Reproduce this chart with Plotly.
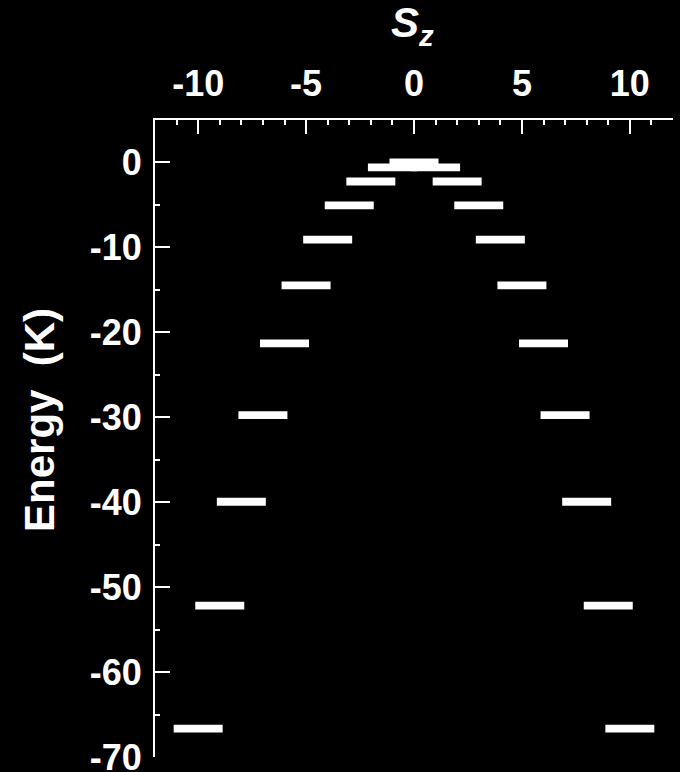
import plotly.graph_objects as go

# Data
sz_values = [-10, -9, -8, -7, -6, -5, -4, -3, -2, -1, 0, 1, 2, 3, 4, 5, 6, 7, 8, 9, 10]
energy_half = [0.0, -0.57, -2.24, -5.05, -9.09, -14.48, -21.29, -29.75, -39.95, -52.18, -66.66]  # |Sz| = 0..10
energies = [energy_half[abs(s)] for s in sz_values]

x_ticks = [-10, -5, 0, 5, 10]
y_ticks = [0, -10, -20, -30, -40, -50, -60, -70]

# Style constants
LEVEL_HALF_WIDTH = 1.135   # in Sz units
LEVEL_THICKNESS = 0.92     # in energy units
FONT = "Liberation Sans"

fig = go.Figure()
fig.add_trace(go.Bar(
    orientation="h",
    y=energies,
    x=[2 * LEVEL_HALF_WIDTH] * len(sz_values),
    base=[s - LEVEL_HALF_WIDTH for s in sz_values],
    width=LEVEL_THICKNESS,
    marker=dict(color="white", line=dict(width=0)),
    showlegend=False,
    hoverinfo="skip",
))

axis_font = dict(family=FONT, size=36, color="white", weight="bold")

fig.update_layout(
    width=680, height=772,
    paper_bgcolor="black", plot_bgcolor="black",
    margin=dict(l=155, r=7, t=120, b=15, autoexpand=False),
    barmode="overlay",
    xaxis=dict(
        side="top", range=[-12, 12], tickvals=x_ticks,
        ticktext=[str(v) for v in x_ticks],
        ticks="inside", ticklen=14, tickwidth=2, tickcolor="white",
        minor=dict(dtick=1, tick0=0, ticks="inside", ticklen=5, tickwidth=2, tickcolor="white"),
        showline=True, linecolor="white", linewidth=2, mirror=False,
        showgrid=False, zeroline=False, tickfont=axis_font,
        ticklabelstandoff=8, ticklabeloverflow="allow", automargin=False,
    ),
    yaxis=dict(
        range=[-70, 5], tickvals=y_ticks,
        ticktext=[str(v) for v in y_ticks],
        ticks="inside", ticklen=15, tickwidth=2, tickcolor="white",
        minor=dict(dtick=5, tick0=0, ticks="inside", ticklen=5, tickwidth=2, tickcolor="white"),
        showline=True, linecolor="white", linewidth=2, mirror=False,
        showgrid=False, zeroline=False, tickfont=axis_font,
        ticklabelstandoff=4, ticklabeloverflow="allow", automargin=False,
    ),
    annotations=[
        dict(text="<i>S</i><sub><i>z</i></sub>", xref="paper", yref="paper",
             x=0.498, y=1, xanchor="center", yanchor="bottom", yshift=66,
             showarrow=False, font=dict(family=FONT, size=42, color="white", weight="bold")),
        dict(text="Energy  (K)", xref="paper", yref="paper",
             x=-0.224, y=0.529, xanchor="center", yanchor="middle", textangle=-90,
             showarrow=False, font=dict(family=FONT, size=42, color="white", weight="bold")),
    ],
)

fig.write_html(
    "out.html",
    config={"displayModeBar": False},
    post_script="document.body.style.margin='0';document.body.style.background='black';",
)
